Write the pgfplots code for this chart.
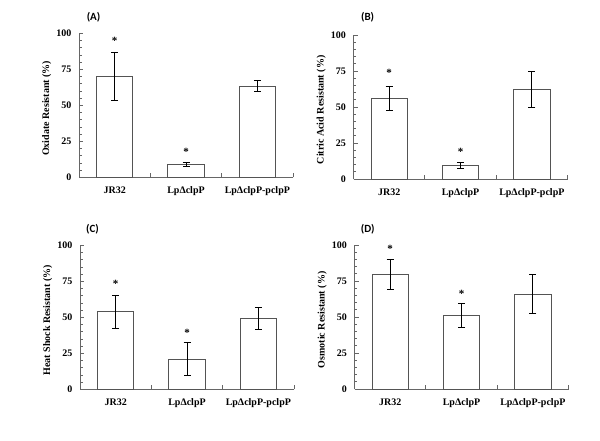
\documentclass[border=0pt]{standalone}
\usepackage{pgfplots}
\pgfplotsset{compat=1.18}
\usepackage{fontspec}
\setmainfont{Liberation Serif}
\newfontfamily\panelfont{Carlito}
\definecolor{axgray}{gray}{0.4}
\definecolor{bargray}{gray}{0.33}
\pgfplotsset{
  panel/.style={
    scale only axis, width=214pt, height=144pt,
    anchor=south west, clip=false,
    xmin=-0.5, xmax=2.5, ymin=0, ymax=100,
    axis x line*=bottom, axis y line*=left,
    axis line style={draw=axgray, line width=0.9pt},
    xtick={0.5,1.5,2.5}, xticklabels={,,},
    extra x ticks={0,1,2},
    extra x tick labels={JR32, LpΔclpP, LpΔclpP-pclpP},
    extra x tick style={major tick length=0pt, tick style={draw=none}},
    xticklabel style={font=\fontsize{10}{10}\selectfont\bfseries, yshift=-6pt},
    ytick={0,25,50,75,100}, minor y tick num=4,
    tick align=inside, major tick length=4pt, minor tick length=2.5pt,
    tick style={draw=axgray, line width=0.8pt},
    /pgf/number format/assume math mode=true,
    yticklabel style={font=\fontsize{10}{10}\selectfont\bfseries, xshift=-4pt},
    ylabel style={at={(axis description cs:-0.151,0.48)}, anchor=center, font=\fontsize{10}{10}\selectfont\bfseries},
  },
  bars/.style={ybar, bar width=0.51, fill=white, draw=bargray, line width=0.9pt,
    error bars/.cd, y dir=both, y explicit,
    error bar style={black, line width=0.9pt},
    error mark options={rotate=90, mark size=3.5pt, black, line width=0.9pt}},
  stars/.style={draw=none, mark=none, nodes near coords={\bfseries *},
    every node near coord/.append style={anchor=center, font=\fontsize{11}{11}\selectfont}},
}
\begin{document}
\begin{tikzpicture}
\useasboundingbox (0,0) rectangle (600pt,441pt);
% (A)
\begin{axis}[panel, at={(79pt,263.5pt)}, ylabel={Oxidate Resistant (\%)}]
\addplot[bars] coordinates {(0,70) +- (0,16.5) (1,9) +- (0,1.5) (2,63.5) +- (0,3.7)};
\addplot[stars] coordinates {(0,95) (1,17.5)};
\node[font=\panelfont\bfseries\fontsize{11}{11}\selectfont] at (axis description cs:0.068,1.111) {(A)};
\end{axis}
% (B)
\begin{axis}[panel, at={(353.5pt,262pt)}, ylabel={Citric Acid Resistant (\%)}]
\addplot[bars] coordinates {(0,56) +- (0,8.5) (1,9.5) +- (0,2.1) (2,62.3) +- (0,12.6)};
\addplot[stars] coordinates {(0,74) (1,19)};
\node[font=\panelfont\bfseries\fontsize{11}{11}\selectfont] at (axis description cs:0.066,1.123) {(B)};
\end{axis}
% (C)
\begin{axis}[panel, at={(80pt,51.5pt)}, ylabel={Heat Shock Resistant (\%)}]
\addplot[bars] coordinates {(0,54) +- (0,11.5) (1,21) +- (0,11.5) (2,49.3) +- (0,7.4)};
\addplot[stars] coordinates {(0,73.3) (1,39)};
\node[font=\panelfont\bfseries\fontsize{11}{11}\selectfont] at (axis description cs:0.058,1.116) {(C)};
\end{axis}
% (D)
\begin{axis}[panel, at={(354.5pt,52pt)}, ylabel={Osmotic Resistant (\%)}]
\addplot[bars] coordinates {(0,79.6) +- (0,10.2) (1,51.2) +- (0,8.5) (2,65.8) +- (0,13.6)};
\addplot[stars] coordinates {(0,97.6) (1,66)};
\node[font=\panelfont\bfseries\fontsize{11}{11}\selectfont] at (axis description cs:0.062,1.11) {(D)};
\end{axis}
\end{tikzpicture}
\end{document}
